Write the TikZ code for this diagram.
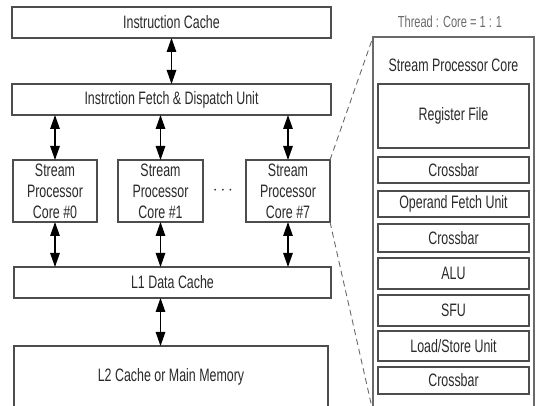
\documentclass[tikz,border=0pt]{standalone}
\usepackage{fontspec}
\setmainfont[FakeStretch=0.69]{Liberation Sans}
\usetikzlibrary{arrows.meta}
\definecolor{edge}{HTML}{4D4D4D}
\definecolor{ink}{HTML}{2A2A2A}
\definecolor{soft}{HTML}{6A6A6A}
\begin{document}
\begin{tikzpicture}[x=1pt,y=-1pt,
  unitbox/.style={draw=edge,line width=1.2pt,fill=white,inner sep=0pt,outer sep=0pt,
    text=ink,font=\fontsize{18}{21}\selectfont,align=center},
  bus/.style={line width=1.3pt,{Triangle[length=14pt,width=9.5pt]}-{Triangle[length=14pt,width=9.5pt]}},
  zoomline/.style={draw=soft,line width=0.9pt,dash pattern=on 6pt off 4pt}]
\useasboundingbox (0,0) rectangle (536,406);
\clip (0,0) rectangle (536,406);

% main pipeline, left column
\node[unitbox,minimum width=319pt,minimum height=31pt] (ic) at (171.5,22.5) {Instruction Cache};
\node[unitbox,minimum width=319pt,minimum height=31pt] (fd) at (171.5,99.5) {Instrction Fetch \& Dispatch Unit};
\node[unitbox,minimum width=84pt,minimum height=62pt] (c0) at (55,191) {Stream\\Processor\\Core \#0};
\node[unitbox,minimum width=85pt,minimum height=62pt] (c1) at (160.5,191) {Stream\\Processor\\Core \#1};
\node[unitbox,minimum width=84pt,minimum height=62pt] (c7) at (288,191) {Stream\\Processor\\Core \#7};
\node[text=ink,inner sep=0pt,font=\fontsize{18}{20}\selectfont] (dots) at (223,191) {$\cdots$};
\node[unitbox,minimum width=317pt,minimum height=31pt] (l1) at (172.5,282.5) {L1 Data Cache};
\node[unitbox,minimum width=314pt,minimum height=62pt] (l2) at (171,377) {L2 Cache or Main Memory};

% connections
\draw[bus] (ic.south) -- (fd.north);
\foreach \c in {c0,c1,c7}{
  \draw[bus] (\c.north |- fd.south) -- (\c.north);
  \draw[bus] (\c.south) -- (\c.south |- l1.north);
}
\draw[bus] (c1 |- l1.south) -- (c1 |- l2.north);

% detail of one stream processor core
\node[text=soft,font=\fontsize{16}{18}\selectfont,inner sep=0pt] (ratio) at (450,22) {Thread : Core = 1 : 1};
\node[draw=soft,line width=1.6pt,inner sep=0pt,outer sep=0pt,minimum width=161pt,minimum height=375pt] (core) at (453.5,224.5) {};
\node[text=ink,font=\fontsize{18}{21}\selectfont,inner sep=0pt] (coretitle) at (453.5,65) {Stream Processor Core};
\node[unitbox,minimum width=151pt,minimum height=64pt] (rf) at (453.5,116) {Register File};
\node[unitbox,minimum width=151pt,minimum height=26pt] (cb1) at (453.5,170) {Crossbar};
\node[unitbox,minimum width=151pt,minimum height=26pt] (ofu) at (453.5,204) {Operand Fetch Unit};
\node[unitbox,minimum width=151pt,minimum height=28pt] (cb2) at (453.5,238) {Crossbar};
\node[unitbox,minimum width=151pt,minimum height=31pt] (alu) at (453.5,273.5) {ALU};
\node[unitbox,minimum width=151pt,minimum height=31pt] (sfu) at (453.5,310.5) {SFU};
\node[unitbox,minimum width=151pt,minimum height=30pt] (lsu) at (453.5,346) {Load/Store Unit};
\node[unitbox,minimum width=151pt,minimum height=27pt] (cb3) at (453.5,380.5) {Crossbar};

% magnification lines
\draw[zoomline] (c7.north east) -- (core.north west);
\draw[zoomline] (c7.south east) -- (core.south west);
\end{tikzpicture}
\end{document}
